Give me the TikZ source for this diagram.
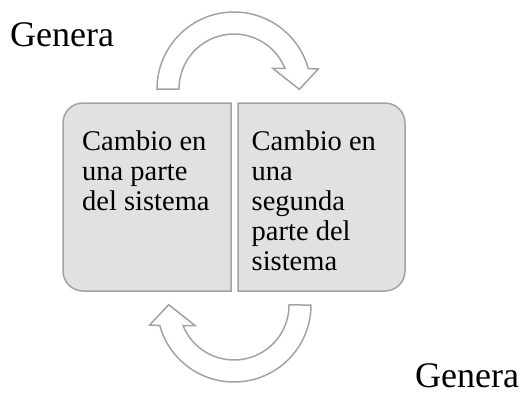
\documentclass[tikz,border=0pt]{standalone}
\usepackage{fontspec}
\setmainfont{Liberation Serif}
\definecolor{boxfill}{HTML}{E1E1E1}
\definecolor{edge}{HTML}{A3A3A3}
\tikzset{
  boxshape/.style={draw=edge,fill=boxfill,line width=1.5pt},
  arrowshape/.style={draw=edge,fill=white,line width=1.5pt,line join=miter},
  boxtext/.style={inner sep=0pt,anchor=north west,align=left,font=\fontsize{28.5pt}{30pt}\selectfont},
  lbl/.style={inner sep=0pt,anchor=base west,font=\fontsize{36pt}{40pt}\selectfont}
}
\begin{document}
\begin{tikzpicture}[x=1pt,y=1pt]
\useasboundingbox (0,0) rectangle (525,-394);
% boxes
\draw[boxshape] (231,-103) -- (83,-103) arc[start angle=90,end angle=180,radius=20pt]
  -- (63,-271) arc[start angle=180,end angle=270,radius=20pt] -- (231,-291) -- cycle;
\draw[boxshape] (238,-103) -- (385,-103) arc[start angle=90,end angle=0,radius=20pt]
  -- (405,-271) arc[start angle=0,end angle=-90,radius=20pt] -- (238,-291) -- cycle;
% circular arrows
\draw[arrowshape] (157,-89) arc[start angle=180,end angle=15.4,radius=77pt]
  -- (318.3,-69) -- (299.3,-89.3) -- (272.7,-68.3) -- (285,-68.5)
  arc[start angle=21.9,end angle=180,radius=55pt] -- cycle;
\draw[arrowshape,rotate around={180:(234,-197)}] (157,-89) arc[start angle=180,end angle=15.4,radius=77pt]
  -- (318.3,-69) -- (299.3,-89.3) -- (272.7,-68.3) -- (285,-68.5)
  arc[start angle=21.9,end angle=180,radius=55pt] -- cycle;
% texts
\node[boxtext] (t1) at (82,-130.5) {\fontsize{28.5pt}{30pt}\selectfont Cambio en\\una parte\\del sistema};
\node[boxtext] (t2) at (251.5,-130.5) {\fontsize{28.5pt}{30pt}\selectfont Cambio en\\una\\segunda\\parte del\\sistema};
\node[lbl] (g1) at (10,-46) {Genera};
\node[lbl] (g2) at (415,-387) {Genera};
\end{tikzpicture}
\end{document}
